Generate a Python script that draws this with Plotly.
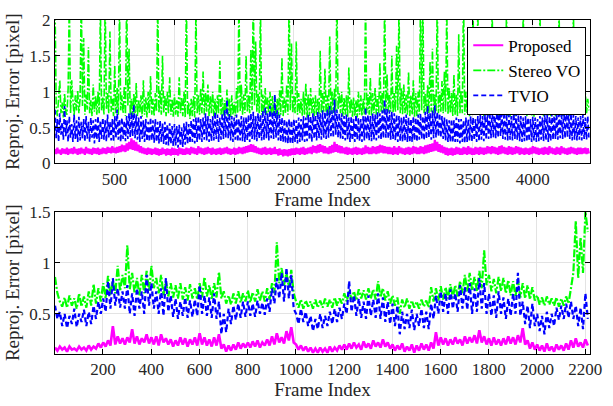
import plotly.graph_objects as go

# ---------------- data ----------------
# Top panel: one sample every 10 frames, frames 1..4471
TOP_STEP = 10
proposed_top = [
    0.2,0.13,0.22,0.14,0.19,0.12,0.21,0.14,0.2,0.13,0.22,0.12,0.2,0.14,0.21,0.13,0.23,0.14,0.2,0.12,
    0.21,0.13,0.22,0.14,0.2,0.12,0.23,0.14,0.21,0.13,0.2,0.12,0.22,0.14,0.21,0.13,0.22,0.12,0.2,0.13,
    0.22,0.14,0.21,0.13,0.23,0.15,0.22,0.14,0.24,0.15,0.22,0.14,0.23,0.15,0.24,0.16,0.26,0.17,0.25,0.16,
    0.28,0.18,0.3,0.2,0.35,0.19,0.32,0.18,0.3,0.17,0.26,0.15,0.24,0.14,0.22,0.13,0.21,0.12,0.22,0.13,
    0.21,0.12,0.2,0.13,0.22,0.12,0.21,0.11,0.2,0.12,0.22,0.13,0.2,0.11,0.21,0.12,0.2,0.11,0.22,0.12,
    0.21,0.12,0.2,0.11,0.22,0.13,0.21,0.12,0.2,0.12,0.22,0.13,0.21,0.12,0.23,0.14,0.22,0.13,0.21,0.12,
    0.24,0.14,0.22,0.13,0.21,0.12,0.22,0.13,0.23,0.14,0.21,0.12,0.22,0.13,0.2,0.12,0.21,0.13,0.22,0.12,
    0.21,0.13,0.22,0.14,0.23,0.13,0.21,0.12,0.2,0.13,0.22,0.12,0.21,0.13,0.23,0.14,0.22,0.13,0.23,0.14,
    0.24,0.15,0.25,0.16,0.27,0.16,0.26,0.15,0.24,0.14,0.22,0.13,0.21,0.12,0.22,0.13,0.23,0.12,0.21,0.13,
    0.22,0.12,0.21,0.13,0.23,0.13,0.2,0.11,0.21,0.12,0.19,0.1,0.2,0.11,0.19,0.1,0.2,0.11,0.21,0.12,
    0.21,0.12,0.22,0.13,0.21,0.12,0.22,0.13,0.23,0.12,0.21,0.13,0.22,0.14,0.23,0.13,0.25,0.15,0.24,0.14,
    0.26,0.15,0.27,0.16,0.25,0.14,0.24,0.14,0.22,0.13,0.24,0.14,0.26,0.15,0.3,0.16,0.27,0.15,0.25,0.14,
    0.24,0.14,0.22,0.13,0.23,0.12,0.22,0.13,0.21,0.12,0.22,0.13,0.23,0.12,0.22,0.13,0.21,0.12,0.22,0.13,
    0.25,0.14,0.23,0.13,0.22,0.13,0.24,0.14,0.23,0.13,0.24,0.14,0.26,0.15,0.25,0.14,0.24,0.14,0.23,0.13,
    0.23,0.13,0.22,0.12,0.24,0.13,0.22,0.12,0.24,0.14,0.22,0.13,0.21,0.12,0.22,0.13,0.23,0.12,0.22,0.13,
    0.24,0.14,0.23,0.13,0.22,0.13,0.24,0.14,0.23,0.13,0.25,0.14,0.26,0.15,0.27,0.16,0.28,0.17,0.33,0.18,
    0.3,0.16,0.27,0.15,0.25,0.14,0.23,0.12,0.22,0.11,0.21,0.12,0.22,0.11,0.21,0.12,0.23,0.13,0.22,0.12,
    0.21,0.12,0.23,0.13,0.22,0.12,0.24,0.13,0.22,0.12,0.21,0.12,0.23,0.13,0.22,0.12,0.23,0.13,0.22,0.12,
    0.22,0.13,0.24,0.14,0.23,0.13,0.24,0.14,0.23,0.13,0.22,0.12,0.24,0.13,0.25,0.14,0.23,0.13,0.22,0.12,
    0.24,0.13,0.23,0.12,0.22,0.13,0.24,0.14,0.23,0.12,0.22,0.13,0.21,0.12,0.22,0.13,0.21,0.12,0.22,0.13,
    0.24,0.14,0.23,0.13,0.22,0.12,0.21,0.13,0.22,0.12,0.23,0.13,0.22,0.12,0.24,0.14,0.22,0.13,0.21,0.12,
    0.23,0.13,0.22,0.12,0.24,0.14,0.22,0.13,0.21,0.12,0.22,0.13,0.23,0.14,0.22,0.13,0.21,0.12,0.22,0.13,
    0.22,0.13,0.21,0.14,0.22,0.13,0.21,0.14,
]
stereo_top = [
    2.3,0.78,0.66,0.92,1.16,0.7,0.85,0.64,0.98,0.72,0.68,1.05,2.3,0.7,1.16,0.88,0.66,0.95,0.74,1.02,
    0.7,0.9,2.4,0.8,1.75,0.68,0.96,0.75,1.62,0.7,0.88,0.66,1.1,0.72,0.94,0.68,1.0,0.7,2.2,0.74,
    0.92,0.68,2.3,0.75,0.98,0.7,1.84,0.72,0.9,0.66,1.37,0.7,1.05,0.68,2.2,0.74,0.95,0.7,1.08,0.66,
    2.4,0.8,1.6,0.68,0.9,0.64,0.98,0.7,1.12,0.66,0.88,0.7,0.95,0.65,1.16,0.68,0.92,0.64,1.0,0.7,
    1.22,0.68,0.9,0.66,0.98,0.72,2.3,0.7,1.02,0.68,1.5,0.7,0.94,0.66,1.0,0.7,1.2,0.68,0.9,0.65,
    0.96,0.68,0.88,0.65,1.2,0.7,0.92,0.66,1.0,0.64,2.3,0.68,0.85,0.62,0.9,0.66,0.94,0.64,2.2,0.7,
    0.95,0.68,1.05,0.7,1.28,0.68,0.98,0.72,1.1,0.66,0.94,0.7,1.0,0.66,0.9,0.68,0.95,0.7,1.43,0.68,
    0.92,0.66,0.88,0.7,1.03,0.66,0.9,0.64,0.95,0.68,0.86,0.66,1.05,0.7,2.3,0.72,1.1,0.68,0.96,0.7,
    1.5,0.72,0.95,0.7,1.59,0.74,2.4,0.8,1.7,0.72,0.98,0.7,2.2,0.68,0.96,0.7,1.05,0.68,0.92,0.7,
    1.0,0.66,0.94,0.68,0.95,0.64,0.9,0.66,1.02,0.68,1.48,0.66,0.92,0.7,1.1,0.68,2.3,0.74,1.68,0.7,
    0.94,0.7,1.7,0.68,0.98,0.7,0.9,0.66,1.0,0.68,1.12,0.64,0.96,0.66,1.05,0.7,0.92,0.66,0.95,0.68,
    0.9,0.68,1.57,0.7,0.98,0.72,1.32,0.68,0.95,0.66,1.77,0.68,1.0,0.7,1.05,0.72,2.4,0.75,0.98,0.7,
    1.0,0.66,0.92,0.68,0.95,0.65,1.34,0.7,0.9,0.65,0.92,0.66,0.88,0.64,1.0,0.68,0.95,0.66,0.9,0.68,
    2.3,0.7,0.96,0.68,1.2,0.66,0.98,0.7,1.05,0.68,0.94,0.7,1.41,0.72,0.98,0.7,2.3,0.74,1.24,0.72,
    0.96,0.72,1.5,0.7,0.98,0.72,1.64,0.74,2.2,0.7,1.05,0.68,1.1,0.7,0.96,0.68,1.28,0.66,0.95,0.68,
    1.16,0.65,0.98,0.66,1.0,0.68,2.3,0.74,2.2,0.7,0.98,0.72,1.1,0.7,1.42,0.72,1.6,0.7,0.96,0.72,
    2.3,0.7,1.0,0.72,1.15,0.7,1.28,0.72,2.2,0.68,1.05,0.7,0.98,0.66,1.24,0.68,0.96,0.66,1.8,0.7,
    1.02,0.7,2.4,0.68,1.0,0.7,0.95,0.66,1.0,0.68,2.2,0.68,0.96,0.7,2.2,0.7,1.1,0.68,0.98,0.66,
    1.0,0.68,0.94,0.66,1.05,0.7,2.2,0.7,1.05,0.68,0.95,0.66,0.98,0.68,1.0,0.67,1.1,0.7,2.2,0.66,
    1.0,0.65,0.95,0.68,0.98,0.66,1.02,0.7,0.95,0.68,0.96,0.7,2.2,0.7,1.05,0.66,0.98,0.68,1.02,0.66,
    0.98,0.65,1.05,0.7,1.0,0.68,2.2,0.68,1.0,0.66,1.08,0.7,0.95,0.67,0.98,0.66,1.04,0.7,0.95,0.66,
    1.0,0.68,2.2,0.68,1.02,0.66,0.98,0.7,0.96,0.68,1.0,0.66,1.05,0.7,2.2,0.72,1.0,0.7,1.02,0.68,
    0.98,0.7,0.95,0.72,0.98,0.7,0.9,0.74,
]
tvio_top = [
    0.75,0.35,0.62,0.3,0.7,0.4,0.58,0.33,0.8,0.38,0.6,0.3,0.66,0.36,0.55,0.3,0.68,0.34,0.6,0.3,
    0.65,0.32,0.58,0.35,0.62,0.3,0.66,0.34,0.58,0.3,0.64,0.36,0.6,0.28,0.62,0.33,0.66,0.3,0.6,0.34,
    0.64,0.33,0.6,0.3,0.68,0.36,0.58,0.32,0.62,0.3,0.66,0.35,0.75,0.33,0.62,0.3,0.64,0.34,0.6,0.31,
    0.66,0.34,0.7,0.36,0.72,0.38,0.82,0.35,0.68,0.33,0.64,0.3,0.66,0.34,0.6,0.3,0.62,0.31,0.58,0.3,
    0.64,0.32,0.6,0.29,0.62,0.3,0.58,0.28,0.6,0.3,0.56,0.27,0.58,0.26,0.55,0.25,0.56,0.27,0.52,0.24,
    0.55,0.25,0.52,0.22,0.54,0.24,0.5,0.23,0.56,0.26,0.58,0.27,0.55,0.28,0.6,0.3,0.62,0.28,0.64,0.3,
    0.66,0.32,0.62,0.3,0.64,0.33,0.7,0.32,0.66,0.3,0.62,0.31,0.66,0.32,0.72,0.34,0.68,0.3,0.64,0.33,
    0.7,0.34,0.74,0.36,0.89,0.35,0.7,0.32,0.66,0.3,0.64,0.33,0.68,0.3,0.62,0.32,0.66,0.31,0.64,0.3,
    0.65,0.32,0.68,0.3,0.7,0.34,0.72,0.33,0.66,0.31,0.7,0.34,0.68,0.32,0.74,0.33,0.78,0.35,0.7,0.32,
    0.8,0.35,0.72,0.34,0.96,0.36,0.74,0.32,0.68,0.3,0.64,0.3,0.62,0.28,0.6,0.28,0.62,0.27,0.6,0.28,
    0.62,0.3,0.6,0.28,0.64,0.3,0.62,0.32,0.66,0.3,0.64,0.31,0.68,0.33,0.66,0.3,0.7,0.34,0.68,0.32,
    0.72,0.35,0.7,0.33,0.74,0.36,0.72,0.34,0.76,0.36,0.8,0.38,0.74,0.36,0.89,0.4,0.75,0.36,0.7,0.34,
    0.7,0.34,0.66,0.32,0.68,0.33,0.64,0.3,0.66,0.32,0.62,0.3,0.68,0.33,0.64,0.31,0.62,0.3,0.66,0.32,
    0.78,0.34,0.68,0.32,0.66,0.31,0.7,0.33,0.68,0.32,0.72,0.35,0.7,0.33,0.74,0.35,0.89,0.36,0.76,0.34,
    0.74,0.33,0.72,0.34,0.7,0.32,0.68,0.3,0.66,0.31,0.64,0.3,0.66,0.32,0.68,0.3,0.64,0.29,0.62,0.3,
    0.66,0.32,0.64,0.3,0.68,0.33,0.7,0.34,0.66,0.32,0.72,0.34,0.8,0.36,0.7,0.33,0.74,0.35,0.81,0.36,
    0.72,0.38,0.7,0.36,0.66,0.34,0.64,0.32,0.62,0.3,0.6,0.3,0.62,0.29,0.6,0.3,0.64,0.3,0.62,0.28,
    0.62,0.3,0.6,0.28,0.64,0.3,0.62,0.32,0.66,0.3,0.64,0.32,0.62,0.3,0.66,0.31,0.68,0.33,0.66,0.31,
    0.68,0.33,0.7,0.34,0.72,0.35,0.74,0.36,0.78,0.35,0.76,0.36,0.86,0.38,0.74,0.34,0.72,0.33,0.7,0.32,
    0.68,0.33,0.66,0.32,0.75,0.34,0.7,0.33,0.68,0.31,0.66,0.3,0.64,0.31,0.66,0.3,0.64,0.31,0.62,0.3,
    0.65,0.32,0.64,0.3,0.62,0.31,0.66,0.33,0.64,0.31,0.7,0.32,0.68,0.3,0.66,0.31,0.7,0.33,0.72,0.34,
    0.7,0.33,0.74,0.35,0.72,0.34,0.78,0.35,0.8,0.36,0.72,0.34,0.7,0.32,0.68,0.33,0.66,0.32,0.64,0.33,
    0.66,0.32,0.68,0.34,0.64,0.33,0.66,0.34,
]

# Bottom panel: one sample every 10 frames, frames 1..2211
BOT_STEP = 10
proposed_bot = [
    0.17,0.14,0.18,0.15,0.17,0.13,0.18,0.15,0.16,0.14,0.18,0.15,0.17,0.14,0.19,0.15,0.18,0.16,0.21,0.17,
    0.22,0.18,0.24,0.19,0.38,0.2,0.28,0.21,0.26,0.2,0.27,0.22,0.35,0.21,0.28,0.2,0.26,0.22,0.3,0.21,
    0.27,0.2,0.28,0.19,0.3,0.22,0.26,0.2,0.25,0.18,0.24,0.19,0.27,0.2,0.26,0.18,0.25,0.2,0.27,0.19,
    0.31,0.2,0.27,0.19,0.25,0.18,0.27,0.19,0.3,0.16,0.2,0.13,0.19,0.14,0.2,0.15,0.22,0.16,0.21,0.17,
    0.22,0.17,0.23,0.18,0.24,0.17,0.22,0.19,0.25,0.19,0.28,0.2,0.31,0.22,0.27,0.21,0.33,0.24,0.37,0.22,
    0.2,0.15,0.19,0.14,0.18,0.13,0.17,0.12,0.16,0.12,0.17,0.13,0.16,0.12,0.18,0.13,0.17,0.14,0.19,0.15,
    0.2,0.15,0.21,0.16,0.22,0.17,0.2,0.15,0.23,0.17,0.21,0.16,0.24,0.18,0.22,0.17,0.25,0.18,0.22,0.16,
    0.2,0.14,0.19,0.15,0.21,0.13,0.18,0.14,0.2,0.12,0.19,0.14,0.21,0.15,0.2,0.14,0.22,0.16,0.32,0.19,
    0.27,0.2,0.26,0.19,0.25,0.2,0.27,0.21,0.25,0.19,0.28,0.21,0.27,0.22,0.29,0.21,0.34,0.22,0.28,0.2,
    0.26,0.19,0.27,0.2,0.25,0.19,0.26,0.2,0.28,0.21,0.27,0.2,0.29,0.22,0.36,0.2,0.24,0.16,0.22,0.15,
    0.2,0.14,0.19,0.13,0.21,0.14,0.18,0.13,0.2,0.15,0.19,0.14,0.21,0.15,0.24,0.17,0.26,0.18,0.22,0.17,
    0.25,0.19,
]
stereo_bot = [
    0.86,0.7,0.62,0.57,0.66,0.56,0.68,0.58,0.65,0.55,0.7,0.57,0.67,0.56,0.72,0.58,0.79,0.6,0.75,0.62,
    0.8,0.65,0.87,0.68,0.82,0.7,0.97,0.72,0.88,0.75,1.17,0.74,0.9,0.7,0.85,0.68,0.88,0.7,0.92,0.72,
    0.97,0.75,0.85,0.7,0.88,0.68,0.82,0.67,0.8,0.66,0.78,0.65,0.8,0.64,0.76,0.63,0.79,0.65,0.75,0.64,
    0.8,0.66,0.86,0.67,0.78,0.64,0.8,0.66,0.91,0.65,0.72,0.6,0.68,0.59,0.7,0.6,0.72,0.61,0.7,0.62,
    0.73,0.61,0.71,0.62,0.74,0.63,0.72,0.62,0.75,0.64,0.8,0.7,1.2,0.8,0.95,0.78,0.9,0.76,0.93,0.7,
    0.62,0.56,0.64,0.55,0.63,0.57,0.62,0.55,0.64,0.56,0.63,0.56,0.65,0.57,0.64,0.56,0.66,0.58,0.65,0.6,
    0.7,0.62,0.73,0.64,0.72,0.63,0.74,0.65,0.73,0.64,0.75,0.65,0.74,0.64,0.82,0.66,0.75,0.63,0.72,0.6,
    0.68,0.58,0.66,0.5,0.64,0.56,0.65,0.55,0.63,0.56,0.62,0.55,0.64,0.57,0.63,0.56,0.76,0.62,0.75,0.63,
    0.77,0.64,0.76,0.65,0.79,0.66,0.78,0.67,0.82,0.7,0.88,0.72,0.9,0.73,0.86,0.72,0.92,0.75,1.12,0.78,
    0.88,0.72,0.84,0.7,0.86,0.72,0.85,0.7,0.83,0.68,0.82,0.67,0.84,0.66,0.8,0.65,0.78,0.64,0.76,0.63,
    0.68,0.59,0.66,0.58,0.67,0.59,0.65,0.58,0.66,0.57,0.65,0.58,0.67,0.6,0.75,0.9,1.41,0.85,1.25,0.9,
    1.5,1.3,
]
tvio_bot = [
    0.58,0.45,0.52,0.38,0.5,0.36,0.48,0.4,0.55,0.37,0.5,0.42,0.54,0.38,0.52,0.4,0.58,0.45,0.62,0.5,
    0.65,0.52,0.82,0.55,0.85,0.58,0.75,0.56,0.72,0.55,0.78,0.5,0.7,0.48,0.75,0.55,0.72,0.5,0.88,0.58,
    0.8,0.55,0.72,0.5,0.75,0.48,0.85,0.52,0.68,0.47,0.65,0.45,0.62,0.48,0.66,0.46,0.63,0.47,0.64,0.48,
    0.78,0.5,0.68,0.48,0.66,0.46,0.7,0.45,0.62,0.3,0.5,0.32,0.55,0.4,0.58,0.44,0.6,0.46,0.62,0.47,
    0.62,0.48,0.6,0.47,0.63,0.5,0.61,0.49,0.65,0.52,0.75,0.6,0.85,0.65,0.9,0.62,0.95,0.65,0.88,0.55,
    0.5,0.4,0.55,0.42,0.52,0.38,0.48,0.33,0.45,0.35,0.5,0.36,0.48,0.38,0.52,0.4,0.55,0.42,0.56,0.45,
    0.6,0.5,0.82,0.52,0.68,0.48,0.65,0.46,0.62,0.45,0.68,0.48,0.64,0.46,0.7,0.45,0.66,0.42,0.62,0.4,
    0.6,0.38,0.58,0.3,0.52,0.35,0.5,0.36,0.54,0.34,0.5,0.38,0.55,0.36,0.52,0.35,0.6,0.45,0.68,0.5,
    0.72,0.52,0.7,0.5,0.74,0.55,0.7,0.52,0.78,0.55,0.76,0.54,0.8,0.5,0.75,0.52,0.85,0.55,0.8,0.5,
    0.7,0.48,0.68,0.46,0.72,0.5,0.66,0.45,0.65,0.48,0.7,0.5,0.9,0.48,0.62,0.4,0.58,0.36,0.6,0.38,
    0.5,0.33,0.48,0.3,0.52,0.36,0.5,0.38,0.56,0.44,0.58,0.45,0.6,0.46,0.62,0.45,0.58,0.38,0.56,0.35,
    0.7,0.45,
]

top_xticks = [500, 1000, 1500, 2000, 2500, 3000, 3500, 4000]
bot_xticks = [200, 400, 600, 800, 1000, 1200, 1400, 1600, 1800, 2000, 2200]
top_yticks = [0, 0.5, 1, 1.5, 2]
top_yticklabels = ["0", "0.5", "1", "1.5", "2"]
bot_yticks = [0.5, 1, 1.5]
bot_yticklabels = ["0.5", "1", "1.5"]

series_names = ["Proposed", "Stereo VO", "TVIO"]
# --------------------------------------------------------------

for s in (proposed_top, stereo_top, tvio_top):
    assert len(s) == 448, len(s)
for s in (proposed_bot, stereo_bot, tvio_bot):
    assert len(s) == 222, len(s)


def frames(vals, step):
    return [1 + step * i for i in range(len(vals))]


MAG = "#ff00ff"
GRN = "#00ff00"
BLU = "#0000ff"
FONT = "Liberation Serif"
TXT = "#262626"

fig = go.Figure()

top_styles = [
    dict(color=MAG, width=2.2, dash="solid"),
    dict(color=GRN, width=1.6, dash="8px,2px,2px,2px"),
    dict(color=BLU, width=1.7, dash="5px,3px"),
]
bot_styles = [
    dict(color=MAG, width=2.6, dash="solid"),
    dict(color=GRN, width=2.2, dash="8px,2px,2px,2px"),
    dict(color=BLU, width=2.2, dash="5px,3px"),
]

panels = [
    ("x", "y", [proposed_top, stereo_top, tvio_top], TOP_STEP, True, top_styles),
    ("x2", "y2", [proposed_bot, stereo_bot, tvio_bot], BOT_STEP, False, bot_styles),
]
for xa, ya, vals_list, step, show, styles in panels:
    for k in [1, 2, 0]:
        vals = vals_list[k]
        fig.add_trace(go.Scatter(
            x=frames(vals, step), y=vals, mode="lines",
            name=series_names[k], line=styles[k],
            xaxis=xa, yaxis=ya, showlegend=show, legendrank=k + 1,
            hoverinfo="skip",
        ))

axis_common = dict(
    showline=True, linecolor="black", linewidth=1, mirror="ticks",
    ticks="inside", ticklen=5, tickcolor="black",
    showgrid=True, gridcolor="#e3e3e3", gridwidth=1,
    zeroline=False, ticklabeloverflow="allow",
    tickfont=dict(family=FONT, size=17, color=TXT),
)
title_font = dict(family=FONT, size=19, color=TXT)

fig.update_layout(
    width=613, height=406,
    margin=dict(l=55, r=11, t=14, b=45),
    paper_bgcolor="white", plot_bgcolor="white",
    font=dict(family=FONT, size=17, color=TXT),
    xaxis=dict(axis_common, domain=[0, 1], range=[1, 4480], anchor="y",
               tickvals=top_xticks,
               title=dict(text="Frame Index", font=title_font, standoff=2)),
    yaxis=dict(axis_common, domain=[0.5706, 1], range=[0, 2], anchor="x",
               tickvals=top_yticks, ticktext=top_yticklabels,
               title=dict(text="Reproj. Error [pixel]", font=title_font, standoff=4)),
    xaxis2=dict(axis_common, domain=[0, 1], range=[1, 2220], anchor="y2",
                tickvals=bot_xticks,
                title=dict(text="Frame Index", font=title_font, standoff=2)),
    yaxis2=dict(axis_common, domain=[0, 0.4265], range=[0.107, 1.5], anchor="x2",
                tickvals=bot_yticks, ticktext=bot_yticklabels,
                title=dict(text="Reproj. Error [pixel]", font=title_font, standoff=4)),
    legend=dict(
        x=0.993, xanchor="right", y=0.98, yanchor="top",
        bgcolor="white", bordercolor="black", borderwidth=1,
        font=dict(family=FONT, size=17, color="black"),
        tracegroupgap=0, itemwidth=30,
    ),
    showlegend=True,
)

fig.write_html("out.html")
